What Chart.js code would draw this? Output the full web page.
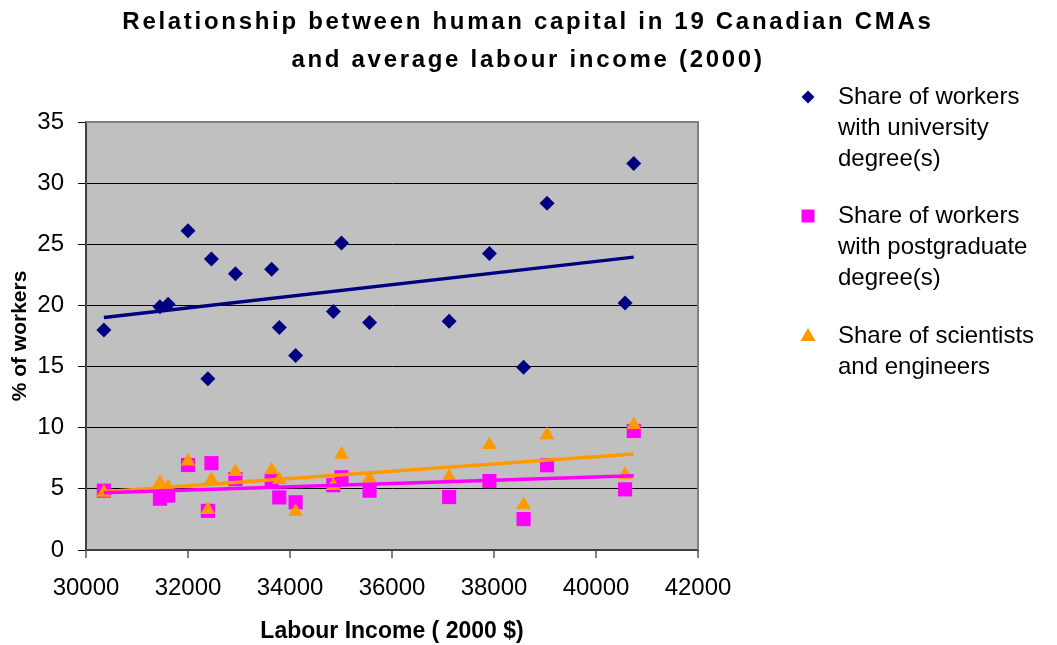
<!DOCTYPE html>
<html>
<head>
<meta charset="utf-8">
<script src="https://cdn.jsdelivr.net/npm/chart.js@4/dist/chart.umd.min.js"></script>
<style>
  html, body { margin: 0; padding: 0; background: #ffffff; }
  #wrap { width: 1057px; height: 645px; position: relative; }
</style>
</head>
<body>
<div id="wrap"><canvas id="chart" width="1057" height="645"></canvas></div>
<script>
// Average labour income (2000 $) for the 19 CMAs
const income = [30350, 31450, 31610, 32000, 32390, 32460, 32930, 33640, 33790, 34110,
                34850, 35010, 35560, 37120, 37910, 38580, 39040, 40570, 40740];
// Share of workers with university degree(s), %
const univShare = [18.0, 19.9, 20.1, 26.1, 14.0, 23.8, 22.6, 22.95, 18.2, 15.9,
                   19.5, 25.1, 18.6, 18.7, 24.25, 14.95, 28.35, 20.2, 31.6];
// Share of workers with postgraduate degree(s), %
const postShare = [4.85, 4.2, 4.45, 6.95, 3.2, 7.1, 5.8, 5.7, 4.3, 3.9,
                   5.3, 5.95, 4.85, 4.33, 5.64, 2.53, 6.93, 4.96, 9.73];
// Share of scientists and engineers, %
const sciShare = [4.7, 5.5, 5.15, 7.25, 3.3, 5.75, 6.4, 6.55, 5.75, 3.15,
                  5.25, 7.8, 5.85, 6.0, 8.6, 3.7, 9.4, 6.15, 10.25];

const seriesNames = [
  ['Share of workers', 'with university', 'degree(s)'],
  ['Share of workers', 'with postgraduate', 'degree(s)'],
  ['Share of scientists', 'and engineers']
];
const titleLines = ['Relationship between human capital in 19 Canadian CMAs',
                    'and average labour income (2000)'];
const xTicks = [30000, 32000, 34000, 36000, 38000, 40000, 42000];
const yTicks = [0, 5, 10, 15, 20, 25, 30, 35];

const FONT = "'Liberation Sans', Arial, sans-serif";
const NAVY = '#000080', MAGENTA = '#FF00FF', ORANGE = '#FF9900';

function points(ys) { return income.map((x, i) => ({ x: x, y: ys[i] })); }

// Least-squares linear trend, spanning the observed income range
function trend(ys) {
  const n = income.length;
  const mx = income.reduce((a, b) => a + b, 0) / n;
  const my = ys.reduce((a, b) => a + b, 0) / n;
  let sxy = 0, sxx = 0;
  for (let i = 0; i < n; i++) { sxy += (income[i] - mx) * (ys[i] - my); sxx += (income[i] - mx) ** 2; }
  const b = sxy / sxx, a = my - b * mx;
  const x0 = Math.min(...income), x1 = Math.max(...income);
  return [{ x: x0, y: a + b * x0 }, { x: x1, y: a + b * x1 }];
}

const frame = {
  id: 'frame',
  beforeDraw(chart) {
    const { ctx, chartArea: c } = chart;
    ctx.save();
    ctx.fillStyle = '#C0C0C0';
    ctx.fillRect(c.left, c.top, c.right - c.left, c.bottom - c.top);
    ctx.restore();
  },
  beforeDatasetsDraw(chart) {
    const { ctx, chartArea: c } = chart;
    ctx.save();
    ctx.strokeStyle = '#808080';
    ctx.lineWidth = 2;
    ctx.beginPath();
    ctx.moveTo(c.left, c.top);
    ctx.lineTo(c.right, c.top);
    ctx.lineTo(c.right, c.bottom);
    ctx.stroke();
    ctx.restore();
  },
  afterDraw(chart) {
    const ctx = chart.ctx;
    ctx.save();
    // chart title
    ctx.fillStyle = '#000';
    ctx.font = 'bold 24px ' + FONT;
    ctx.textAlign = 'center';
    ctx.textBaseline = 'middle';
    if ('letterSpacing' in ctx) ctx.letterSpacing = '2.7px';
    ctx.fillText(titleLines[0], 528, 22);
    ctx.fillText(titleLines[1], 528, 60);
    if ('letterSpacing' in ctx) ctx.letterSpacing = '0px';

    // legend
    const rowsY = [97, 216, 336];
    const mx = 808;
    ctx.font = '24px ' + FONT;
    ctx.textAlign = 'left';
    seriesNames.forEach((lines, k) => {
      const y = rowsY[k];
      ctx.fillStyle = [NAVY, MAGENTA, ORANGE][k];
      ctx.beginPath();
      if (k === 0) {
        ctx.moveTo(mx, y - 6.5); ctx.lineTo(mx + 6.5, y); ctx.lineTo(mx, y + 6.5); ctx.lineTo(mx - 6.5, y);
      } else if (k === 1) {
        ctx.rect(mx - 6.5, y - 6.5, 13, 13);
      } else {
        ctx.moveTo(mx, y - 8); ctx.lineTo(mx + 7.5, y + 5); ctx.lineTo(mx - 7.5, y + 5);
      }
      ctx.closePath();
      ctx.fill();
      ctx.fillStyle = '#000';
      lines.forEach((t, j) => ctx.fillText(t, 838, y + j * 31));
    });
    ctx.restore();
  }
};

new Chart(document.getElementById('chart'), {
  type: 'scatter',
  data: {
    datasets: [
      { label: 'univ trend', type: 'line', data: trend(univShare), borderColor: NAVY, borderWidth: 3.5,
        pointRadius: 0, fill: false, order: 0 },
      { label: 'post trend', type: 'line', data: trend(postShare), borderColor: MAGENTA, borderWidth: 3.5,
        pointRadius: 0, fill: false, order: 0 },
      { label: 'sci trend', type: 'line', data: trend(sciShare), borderColor: ORANGE, borderWidth: 3.5,
        pointRadius: 0, fill: false, order: 0 },
      { label: seriesNames[2].join(' '), data: points(sciShare), pointStyle: 'triangle', pointRadius: 8.5,
        backgroundColor: ORANGE, borderColor: ORANGE, borderWidth: 0, order: 1 },
      { label: seriesNames[1].join(' '), data: points(postShare), pointStyle: 'rect', pointRadius: 10,
        backgroundColor: MAGENTA, borderColor: MAGENTA, borderWidth: 0, order: 2 },
      { label: seriesNames[0].join(' '), data: points(univShare), pointStyle: 'rectRot', pointRadius: 7.5,
        backgroundColor: NAVY, borderColor: NAVY, borderWidth: 0, order: 3 }
    ]
  },
  plugins: [frame],
  options: {
    responsive: false,
    animation: false,
    events: [],
    layout: { padding: { left: 0, top: 122, right: 1057 - 698, bottom: 0 } },
    plugins: { legend: { display: false }, title: { display: false }, tooltip: { enabled: false } },
    scales: {
      x: {
        type: 'linear', min: 30000, max: 42000,
        afterBuildTicks: s => { s.ticks = xTicks.map(v => ({ value: v })); },
        afterFit: s => { s.height = 95; },
        ticks: { callback: v => String(v), color: '#000', padding: 16, maxRotation: 0,
                 font: { family: FONT, size: 24 } },
        grid: { drawOnChartArea: false, color: '#808080', tickLength: 8, lineWidth: 2 },
        border: { color: '#404040', width: 2 },
        title: { display: true, text: 'Labour Income ( 2000 $)', color: '#000',
                 font: { family: FONT, size: 23, weight: 'bold' }, padding: { top: 0, bottom: 0 } }
      },
      y: {
        type: 'linear', min: 0, max: 35,
        afterBuildTicks: s => { s.ticks = yTicks.map(v => ({ value: v })); },
        afterFit: s => { s.width = 86; },
        ticks: { color: '#000', padding: 14, font: { family: FONT, size: 24 } },
        grid: { color: '#000', lineWidth: 1, tickLength: 8 },
        border: { color: '#404040', width: 2 },
        title: { display: true, text: '% of workers', color: '#000',
                 font: { family: FONT, size: 21, weight: 'bold' }, padding: { top: 8, bottom: 0 } }
      }
    }
  }
});
</script>
</body>
</html>
